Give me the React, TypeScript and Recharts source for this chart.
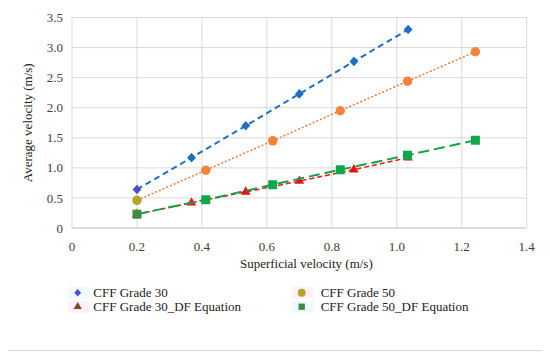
import React from 'react';
import { ScatterChart, Scatter, XAxis, YAxis, CartesianGrid, Legend, Symbols } from 'recharts';

const xTicks = [0, 0.2, 0.4, 0.6, 0.8, 1.0, 1.2, 1.4];
const yTicks = [0, 0.5, 1.0, 1.5, 2.0, 2.5, 3.0, 3.5];

const grade30X = [0.2, 0.368, 0.535, 0.7, 0.868, 1.035];
const grade30Y = [0.64, 1.17, 1.7, 2.23, 2.77, 3.3];
const grade50X = [0.2, 0.412, 0.618, 0.826, 1.033, 1.242];
const grade50Y = [0.46, 0.96, 1.45, 1.95, 2.44, 2.93];
const grade30DFX = [0.2, 0.368, 0.535, 0.7, 0.868, 1.035];
const grade30DFY = [0.23, 0.42, 0.6, 0.78, 0.97, 1.17];
const grade50DFX = [0.2, 0.412, 0.618, 0.826, 1.033, 1.242];
const grade50DFY = [0.23, 0.47, 0.72, 0.97, 1.21, 1.46];

const seriesNames = ['CFF Grade 30', 'CFF Grade 50', 'CFF Grade 30_DF Equation', 'CFF Grade 50_DF Equation'];

const toPts = (xs: number[], ys: number[]) => xs.map((x, i) => ({ x, y: ys[i] }));

const FONT = "'Liberation Serif', 'Times New Roman', 'DejaVu Serif', serif";
const TXT = '#404040';

type SeriesDef = {
  name: string;
  data: { x: number; y: number }[];
  shape: 'diamond' | 'circle' | 'triangle' | 'square';
  color: string;
  firstColor: string;
  legendColor: string;
  size: number;
  legendSize: number;
  line: { stroke: string; strokeWidth: number; strokeDasharray: string };
};

const series: SeriesDef[] = [
  {
    name: seriesNames[0],
    data: toPts(grade30X, grade30Y),
    shape: 'diamond',
    color: '#1f6fc1',
    firstColor: '#4b4fc8',
    legendColor: '#4b4fc8',
    size: 4.4,
    legendSize: 3.4,
    line: { stroke: '#1f6fc1', strokeWidth: 2, strokeDasharray: '6 4' },
  },
  {
    name: seriesNames[1],
    data: toPts(grade50X, grade50Y),
    shape: 'circle',
    color: '#f5823a',
    firstColor: '#b5a42c',
    legendColor: '#b5a42c',
    size: 70,
    legendSize: 50,
    line: { stroke: '#f07a35', strokeWidth: 1.5, strokeDasharray: '2 2' },
  },
  {
    name: seriesNames[2],
    data: toPts(grade30DFX, grade30DFY),
    shape: 'triangle',
    color: '#f01010',
    firstColor: '#7a4d1e',
    legendColor: '#7a4d1e',
    size: 40,
    legendSize: 30,
    line: { stroke: '#f01515', strokeWidth: 1.5, strokeDasharray: '5 3' },
  },
  {
    name: seriesNames[3],
    data: toPts(grade50DFX, grade50DFY),
    shape: 'square',
    color: '#10a64a',
    firstColor: '#3f8a44',
    legendColor: '#3f8a44',
    size: 80,
    legendSize: 40,
    line: { stroke: '#13a24a', strokeWidth: 2, strokeDasharray: '11 5' },
  },
];

const fmt = (v: number) => (v === 0 ? '0' : v.toFixed(1));

const Marker = ({ cx, cy, s, fill, legend }: { cx: number; cy: number; s: SeriesDef; fill: string; legend?: boolean }) => {
  if (s.shape === 'diamond') {
    const r = legend ? s.legendSize : s.size;
    const h = r * 1.1;
    return (
      <polygon
        points={`${cx},${cy - h} ${cx + r},${cy} ${cx},${cy + h} ${cx - r},${cy}`}
        fill={fill}
      />
    );
  }
  return (
    <Symbols cx={cx} cy={cy} type={s.shape} size={legend ? s.legendSize : s.size} fill={fill} stroke="none" />
  );
};

const makeShape = (s: SeriesDef) => (props: any) => {
  const isFirst = props.payload && props.payload.x === s.data[0].x;
  return <Marker cx={props.cx} cy={props.cy} s={s} fill={isFirst ? s.firstColor : s.color} />;
};

const legendLayout = [
  { idx: 0, x: 9.7, tx: 25.3, y: 7.7, bg: '#eefafb' },
  { idx: 2, x: 9.7, tx: 25.3, y: 21.7, bg: '#fcf1f7' },
  { idx: 1, x: 233.7, tx: 252.7, y: 7.7, bg: '#fcf1f7' },
  { idx: 3, x: 233.7, tx: 252.7, y: 21.7, bg: '#eefafb' },
];

const LegendContent = () => (
  <svg width={420} height={36} style={{ display: 'block' }}>
    {legendLayout.map((l) => {
      const s = series[l.idx];
      return (
        <g key={s.name}>
          <rect x={l.x - 10} y={l.y - 6} width={22} height={12} fill={l.bg} />
          <Marker cx={l.x} cy={l.y} s={s} fill={s.legendColor} legend />
          <text x={l.tx} y={l.y + 4.5} style={{ fontFamily: FONT, fontSize: 13 }} fill="#222">
            {s.name}
          </text>
        </g>
      );
    })}
  </svg>
);

const XTitle = (props: any) => {
  const vb = props.viewBox;
  return (
    <text
      x={vb.x + vb.width / 2 + 7}
      y={vb.y + 40}
      textAnchor="middle"
      style={{ fontFamily: FONT, fontSize: 13 }}
      fill="#222"
    >
      Superficial velocity (m/s)
    </text>
  );
};

const YTitle = (props: any) => {
  const vb = props.viewBox;
  const cx = 23.5;
  const cy = vb.y + vb.height / 2;
  return (
    <text
      x={cx}
      y={cy}
      transform={`rotate(-90 ${cx} ${cy})`}
      textAnchor="middle"
      style={{ fontFamily: FONT, fontSize: 13 }}
      fill="#222"
    >
      Average velocity (m/s)
    </text>
  );
};

const tickStyle = { fontSize: 13, fontFamily: FONT, fill: TXT, style: { fontFamily: FONT } };

export default function App() {
  return (
    <div
      style={{
        position: 'relative',
        marginLeft: -1,
        marginTop: -2,
        width: 534,
        height: 343,
        border: '1px solid #d6d6d6',
        background: '#fff',
        fontFamily: FONT,
      }}
    >
      <ScatterChart
        width={534}
        height={343}
        margin={{ top: 10.5, right: 15.3, left: 0, bottom: 0 }}
        style={{ fontFamily: FONT }}
      >
        <CartesianGrid stroke="#d9d9d9" strokeWidth={1} />
        <XAxis
          type="number"
          dataKey="x"
          domain={[0, 1.4]}
          ticks={xTicks}
          tickFormatter={fmt}
          height={122}
          tickLine={false}
          tickSize={6}
          tickMargin={8}
          axisLine={{ stroke: '#d0d0d0' }}
          tick={tickStyle}
          interval={0}
          allowDataOverflow
          label={<XTitle />}
        />
        <YAxis
          type="number"
          dataKey="y"
          domain={[0, 3.5]}
          ticks={yTicks}
          tickFormatter={fmt}
          width={64}
          tickLine={false}
          tickSize={4}
          tickMargin={5}
          axisLine={false}
          tick={tickStyle}
          interval={0}
          allowDataOverflow
          label={<YTitle />}
        />
        <Legend
          layout="horizontal"
          verticalAlign="middle"
          align="center"
          wrapperStyle={{ left: 60, top: 278, width: 420, height: 36 }}
          content={<LegendContent />}
        />
        {series.map((s) => (
          <Scatter
            key={s.name}
            name={s.name}
            data={s.data}
            fill={s.color}
            line={s.line}
            lineType="joint"
            shape={makeShape(s)}
            isAnimationActive={false}
          />
        ))}
      </ScatterChart>
    </div>
  );
}
